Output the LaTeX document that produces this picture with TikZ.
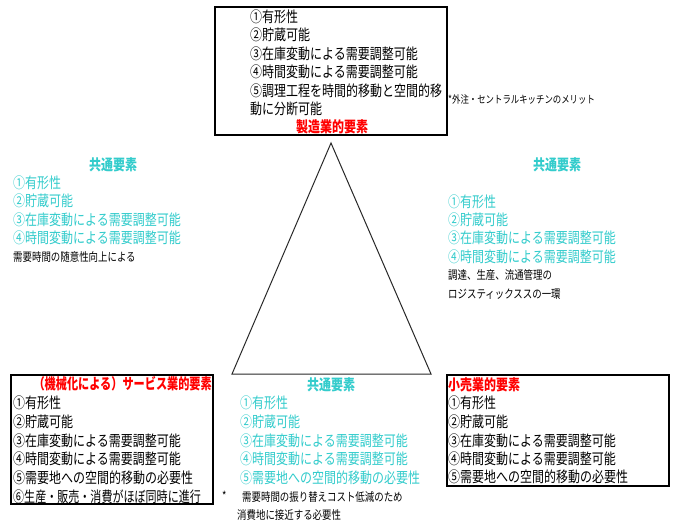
\documentclass[tikz,border=0pt]{standalone}
\usepackage{fontspec}
\setmainfont{Noto Sans CJK JP}[FakeStretch=0.8]
\definecolor{cmncol}{RGB}{51,204,204}
\definecolor{redcol}{RGB}{255,0,0}
\definecolor{tricol}{RGB}{40,40,40}
\begin{document}
\begin{tikzpicture}[x=1pt,y=-1pt,
  item/.style={anchor=west,inner sep=0pt,font=\fontsize{15}{15}\selectfont},
  citem/.style={item,text=cmncol},
  note/.style={anchor=west,inner sep=0pt,font=\fontsize{11.8}{11.8}\selectfont},
  smallnote/.style={anchor=west,inner sep=0pt,font=\fontsize{10.5}{10.5}\selectfont},
  ctitle/.style={anchor=center,inner sep=0pt,text=cmncol,font=\fontsize{15}{15}\selectfont\bfseries},
  rtitle/.style={inner sep=0pt,text=redcol,font=\fontsize{15}{15}\selectfont\bfseries},
  framebox/.style={draw=black,line width=2pt},
  tri/.style={draw=tricol,line width=1pt}]
\fill[white] (0,0) rectangle (676,520);
\useasboundingbox (0,0) rectangle (676,520);

% triangle
\coordinate (apex) at (331,143);
\coordinate (bl) at (232,374);
\coordinate (br) at (431,374);
\draw[tri] (apex) -- (bl) -- (br) -- cycle;

% top box
\draw[framebox] (215,7) rectangle (447,135);
\node[item] (t1) at (250,17) {①有形性};
\node[item] (t2) at (250,35) {②貯蔵可能};
\node[item] (t3) at (250,54) {③在庫変動による需要調整可能};
\node[item] (t4) at (250,72) {④時間変動による需要調整可能};
\node[item] (t5) at (250,91) {⑤調理工程を時間的移動と空間的移};
\node[item] (t6) at (250,109) {動に分断可能};
\node[rtitle] (tt) at (332,127) {製造業的要素};
\node[smallnote] (tn) at (448,99) {*外注・セントラルキッチンのメリット};

% left common
\node[ctitle] (lc) at (113,165) {共通要素};
\node[citem] (l1) at (13,183) {①有形性};
\node[citem] (l2) at (13,201) {②貯蔵可能};
\node[citem] (l3) at (13,220) {③在庫変動による需要調整可能};
\node[citem] (l4) at (13,238) {④時間変動による需要調整可能};
\node[note] (ln) at (13,257) {需要時間の随意性向上による};

% right common
\node[ctitle] (rc) at (557,165) {共通要素};
\node[citem] (r1) at (448,202) {①有形性};
\node[citem] (r2) at (448,220) {②貯蔵可能};
\node[citem] (r3) at (448,238) {③在庫変動による需要調整可能};
\node[citem] (r4) at (448,257) {④時間変動による需要調整可能};
\node[note] (rn1) at (448,275) {調達、生産、流通管理の};
\node[note] (rn2) at (448,294) {ロジスティックススの一環};

% bottom left box
\draw[framebox] (11,375) rectangle (213,504);
\node[rtitle,anchor=east] (bt) at (212,384) {\scalebox{0.93}[1]{（機械化による）サービス業的要素}};
\node[item] (b1) at (13,403) {①有形性};
\node[item] (b2) at (13,422) {②貯蔵可能};
\node[item] (b3) at (13,441) {③在庫変動による需要調整可能};
\node[item] (b4) at (13,459) {④時間変動による需要調整可能};
\node[item] (b5) at (13,478) {⑤需要地への空間的移動の必要性};
\node[item] (b6) at (13,497) {\scalebox{0.92}[1]{⑥生産・販売・消費がほぼ同時に進行}};

% bottom middle common
\node[ctitle] (mc) at (331,385) {共通要素};
\node[citem] (m1) at (240,403) {①有形性};
\node[citem] (m2) at (240,422) {②貯蔵可能};
\node[citem] (m3) at (240,441) {③在庫変動による需要調整可能};
\node[citem] (m4) at (240,459) {④時間変動による需要調整可能};
\node[citem] (m5) at (240,478) {⑤需要地への空間的移動の必要性};
\node[note] (ms) at (222,496) {*};
\node[note] (mn1) at (242,497) {需要時間の振り替えコスト低減のため};
\node[note] (mn2) at (237,515) {消費地に接近する必要性};

% bottom right box
\draw[framebox] (447,375) rectangle (669,486);
\node[rtitle,anchor=west] (rt) at (448,385) {小売業的要素};
\node[item] (s1) at (448,403) {①有形性};
\node[item] (s2) at (448,422) {②貯蔵可能};
\node[item] (s3) at (448,441) {③在庫変動による需要調整可能};
\node[item] (s4) at (448,459) {④時間変動による需要調整可能};
\node[item] (s5) at (448,477) {⑤需要地への空間的移動の必要性};
\end{tikzpicture}
\end{document}
